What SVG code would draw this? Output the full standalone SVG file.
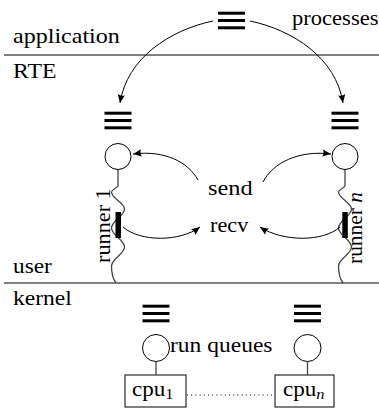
<svg xmlns="http://www.w3.org/2000/svg" width="379" height="413" viewBox="0 0 379 413">
<style>
text{font-family:'Liberation Serif','Times New Roman',serif;font-size:21px;fill:#000}
.bar{fill:#000}
.node{fill:#fff;stroke:#000;stroke-width:1}
.conn{fill:none;stroke:#000;stroke-width:1}
.stem{fill:none;stroke:#444;stroke-width:1.3}
.layer{stroke:#000;stroke-width:1}
</style>
<defs>
<marker id="arr" viewBox="-10 -5 12 10" refX="0" refY="0" markerWidth="12" markerHeight="10" markerUnits="userSpaceOnUse" orient="auto">
<path d="M0,0 L-8.5,-3.6 Q-6.5,0 -8.5,3.6 Z" fill="#000"/>
</marker>
<g id="q">
<rect x="-13.5" y="-8.8" width="27" height="3" class="bar"/>
<rect x="-13.5" y="-1.5" width="27" height="3" class="bar"/>
<rect x="-13.5" y="5.8" width="27" height="3" class="bar"/>
</g>
<path id="wave" class="stem" d="M0,169.5 V186 C-1.5,188.5 -6.5,189.5 -6.5,192 C-6.5,198.3 6.5,202.7 6.5,209 C6.5,216 -6.5,221 -6.5,228 C-6.5,235 6.5,240 6.5,247 C6.5,254 -6.5,259 -6.5,266 C-6.5,273 -5,279 -2,283"/>
</defs>

<g id="layers">
<line x1="4" y1="55" x2="379" y2="55" class="layer"/>
<line x1="4" y1="283" x2="379" y2="283" class="layer"/>
<text transform="translate(13,43) scale(1.145,1)">application</text>
<text transform="translate(13,78) scale(1.13,1)">RTE</text>
<text transform="translate(13,273) scale(1.11,1)">user</text>
<text transform="translate(13,305) scale(1.12,1)">kernel</text>
</g>

<g id="processes">
<use href="#q" x="231.5" y="20.5"/>
<text transform="translate(292,25) scale(1.075,1)">processes</text>
</g>

<g id="runner-1">
<use href="#q" x="118" y="120.5"/>
<use href="#wave" x="118"/>
<circle cx="118" cy="156.5" r="13" class="node"/>
<rect x="115.5" y="212" width="5.5" height="26" class="bar"/>
<text transform="translate(110,263) rotate(-90) scale(1.06,1)">runner 1</text>
</g>

<g id="runner-n">
<use href="#q" x="345" y="120.5"/>
<use href="#wave" x="345"/>
<circle cx="345" cy="156.5" r="13" class="node"/>
<rect x="342.3" y="212" width="5.5" height="26" class="bar"/>
<text transform="translate(362,264) rotate(-90) scale(1.02,1)">runner <tspan font-style="italic">n</tspan></text>
</g>

<g id="send">
<text transform="translate(208,195) scale(1.16,1)">send</text>
</g>
<g id="recv">
<text transform="translate(210,232) scale(1.06,1)">recv</text>
</g>

<g id="kernel-queue-1">
<use href="#q" x="156" y="313.5"/>
<circle cx="156" cy="348" r="13.5" class="node"/>
<text transform="translate(170,352) scale(1.12,1)">run queues</text>
</g>
<g id="kernel-queue-n">
<use href="#q" x="307.5" y="313.5"/>
<circle cx="307.5" cy="348" r="13.5" class="node"/>
</g>

<g id="cpu-1">
<rect x="125" y="375" width="61" height="32" class="node"/>
<text transform="translate(132,396) scale(1.1,1)">cpu<tspan font-size="15" dy="3">1</tspan></text>
</g>
<g id="cpu-n">
<rect x="275" y="375" width="59" height="32" class="node"/>
<text transform="translate(283,396) scale(1.1,1)">cpu<tspan font-size="15" dy="3" font-style="italic">n</tspan></text>
</g>

<g id="connectors">
<path class="conn" d="M213,21 C170,30 127,58 120,103" marker-end="url(#arr)"/>
<path class="conn" d="M250,21 C293,30 336,58 343,103" marker-end="url(#arr)"/>
<path class="conn" d="M198,180 C188,162 165,150 133,154" marker-end="url(#arr)"/>
<path class="conn" d="M263,182 C273,163 298,150 331,154" marker-end="url(#arr)"/>
<path class="conn" d="M123,227 C140,242 180,242 200,227" marker-end="url(#arr)"/>
<path class="conn" d="M340,227 C323,242 283,242 260,227" marker-end="url(#arr)"/>
<line class="stem" x1="156" y1="361.5" x2="156" y2="375"/>
<line class="stem" x1="307.5" y1="361.5" x2="307.5" y2="375"/>
<line x1="187" y1="395" x2="275" y2="395" stroke="#000" stroke-width="1" stroke-dasharray="1 3.2"/>
</g>
</svg>
